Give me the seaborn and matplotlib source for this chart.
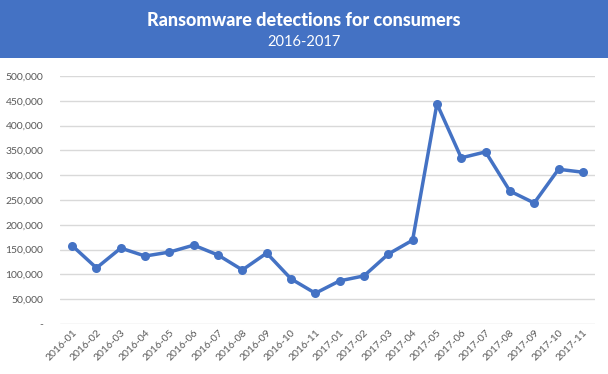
import numpy as np
import pandas as pd
import matplotlib
import matplotlib.pyplot as plt
import seaborn as sns
from matplotlib.patches import Rectangle
from matplotlib.ticker import FuncFormatter

matplotlib.use("Agg")

months = [
    "2016-01", "2016-02", "2016-03", "2016-04", "2016-05", "2016-06",
    "2016-07", "2016-08", "2016-09", "2016-10", "2016-11",
    "2017-01", "2017-02", "2017-03", "2017-04", "2017-05", "2017-06",
    "2017-07", "2017-08", "2017-09", "2017-10", "2017-11",
]
detections = [
    158000, 113000, 153000, 137000, 145000, 159000,
    139000, 109000, 143000, 91000, 62000,
    87000, 97000, 141000, 169000, 444000, 335000,
    347000, 268000, 244000, 312000, 306000,
]
y_ticks = [0, 50000, 100000, 150000, 200000, 250000, 300000, 350000, 400000, 450000, 500000]

title = "Ransomware detections for consumers"
subtitle = "2016-2017"

blue = "#4472C4"
grey = "#595959"

sns.set_theme(style="white")
plt.rcParams["font.family"] = ["Lato", "DejaVu Sans"]

df = pd.DataFrame({"pos": np.arange(len(months)), "month": months, "count": detections})

fig = plt.figure(figsize=(6.08, 3.74), dpi=100)
fig.patches.append(
    Rectangle((0, 316 / 374), 1, 58 / 374, transform=fig.transFigure,
              facecolor=blue, edgecolor="none", zorder=0)
)
fig.text(0.5, 0.945, title, ha="center", va="center", color="white",
         fontsize=13, fontweight="black")
fig.text(0.5, 0.888, subtitle, ha="center", va="center", color="white",
         fontsize=10.5)

ax = fig.add_axes([60 / 608, 50 / 374, 535 / 608, 248 / 374])
sns.lineplot(data=df, x="pos", y="count", ax=ax, color=blue, linewidth=2.5,
             marker="o", markersize=6.5, markeredgewidth=0)

ax.set_xlim(-0.5, len(months) - 0.5)
ax.set_ylim(0, 500000)
ax.set_yticks(y_ticks)
ax.yaxis.set_major_formatter(FuncFormatter(lambda v, p: "-" if v == 0 else f"{int(v):,}"))
ax.set_xticks(df["pos"])
ax.set_xticklabels(months, rotation=45, ha="right", rotation_mode="anchor")
ax.tick_params(axis="both", colors=grey, labelsize=7.5, length=0)
ax.tick_params(axis="y", pad=12)
ax.tick_params(axis="x", pad=3)
ax.grid(axis="y", color="#d9d9d9", linewidth=1)
ax.set_xlabel("")
ax.set_ylabel("")
for s in ax.spines.values():
    s.set_visible(False)

fig.savefig("out.png", dpi=100)
